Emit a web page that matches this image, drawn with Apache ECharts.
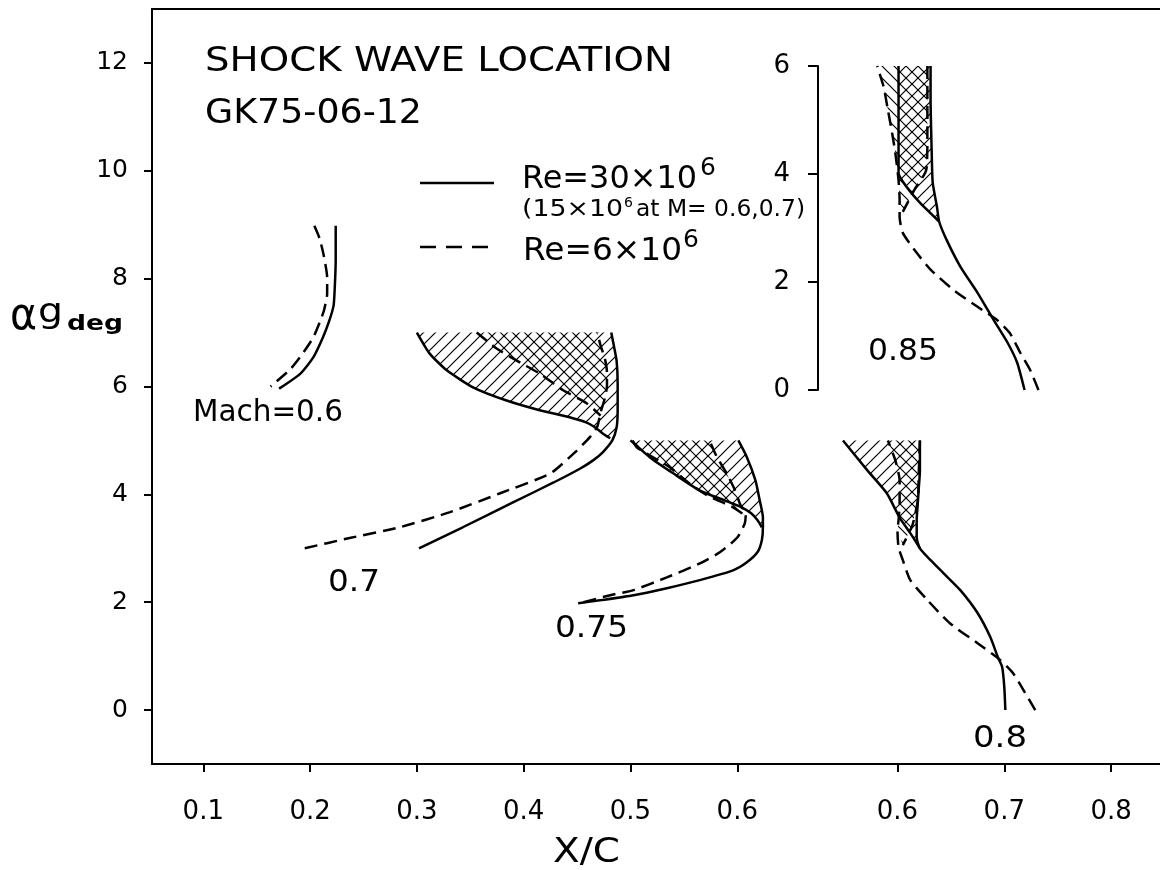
<!DOCTYPE html>
<html><head><meta charset="utf-8">
<script src="https://cdn.jsdelivr.net/npm/echarts@6/dist/echarts.min.js"></script>
<style>html,body{margin:0;padding:0;background:#fff}#c{width:1160px;height:870px}</style>
</head><body><div id="c"></div>
<script>
// ---------------- data (x = X/C, y = alpha g, deg) ----------------
const xTicksLeft = [0.1, 0.2, 0.3, 0.4, 0.5, 0.6];
const xTicksRight = [0.6, 0.7, 0.8];
const yTicks = [0, 2, 4, 6, 8, 10, 12];
const insetYTicks = [0, 2, 4, 6];

// Mach 0.6
const m60Solid = [[0.224,8.98],[0.224,8.33],[0.223,7.78],[0.222,7.50],[0.218,7.22],[0.212,6.91],[0.203,6.54],[0.191,6.24],[0.171,5.96]];
const m60Dash = [[0.204,8.98],[0.209,8.74],[0.213,8.41],[0.216,8.02],[0.216,7.72],[0.213,7.41],[0.209,7.19],[0.203,6.91],[0.193,6.61],[0.181,6.31],[0.163,6.00]];
// Mach 0.7
const m70Solid = [[0.302,3.0],[0.343,3.39],[0.390,3.85],[0.428,4.22],[0.453,4.48],[0.465,4.63],[0.474,4.78],[0.483,5.0],[0.487,5.24],[0.488,5.56],[0.488,6.06],[0.487,6.48],[0.484,6.80],[0.482,7.0]];
const m70SolidFwd = [[0.300,7.0],[0.312,6.61],[0.328,6.30],[0.353,5.98],[0.384,5.74],[0.415,5.56],[0.443,5.43],[0.459,5.33],[0.467,5.24],[0.474,5.13],[0.481,5.04]];
const m70Dash = [[0.195,3.0],[0.237,3.19],[0.284,3.39],[0.331,3.67],[0.378,4.02],[0.425,4.39],[0.448,4.78],[0.462,5.06],[0.469,5.26],[0.472,5.52],[0.476,5.78],[0.478,6.02],[0.478,6.26],[0.476,6.52],[0.472,6.76],[0.469,7.0]];
const m70DashFwd = [[0.356,7.0],[0.375,6.70],[0.397,6.44],[0.415,6.24],[0.437,5.93],[0.459,5.69],[0.472,5.46]];
// Mach 0.75
const m75Solid = [[0.451,1.98],[0.473,2.04],[0.503,2.13],[0.534,2.26],[0.565,2.41],[0.596,2.59],[0.609,2.74],[0.619,2.93],[0.623,3.15],[0.624,3.39],[0.624,3.57],[0.621,3.89],[0.617,4.26],[0.609,4.69],[0.601,5.0]];
const m75SolidFwd = [[0.500,5.0],[0.518,4.69],[0.540,4.39],[0.565,4.07],[0.588,3.89],[0.604,3.76],[0.613,3.65],[0.619,3.52],[0.623,3.39]];
const m75Dash = [[0.456,2.0],[0.481,2.13],[0.502,2.22],[0.534,2.46],[0.565,2.72],[0.584,2.93],[0.600,3.20],[0.607,3.46],[0.608,3.65],[0.603,3.80],[0.598,4.07],[0.590,4.39],[0.581,4.69],[0.574,5.0]];
const m75DashFwd = [[0.502,5.0],[0.506,4.87],[0.537,4.50],[0.554,4.22],[0.572,3.98],[0.596,3.76],[0.607,3.61]];
// Mach 0.8 (right-hand X/C scale)
const m80Solid = [[0.701,0.0],[0.700,0.43],[0.698,0.80],[0.694,0.98],[0.687,1.35],[0.675,1.80],[0.659,2.22],[0.643,2.54],[0.631,2.78],[0.621,3.0],[0.618,3.20],[0.618,3.52],[0.619,3.83],[0.620,4.13],[0.621,4.44],[0.621,5.0]];
const m80SolidFwd = [[0.549,5.0],[0.572,4.44],[0.590,4.02],[0.602,3.57],[0.612,3.28],[0.621,3.0]];
const m80Dash = [[0.729,0.0],[0.718,0.37],[0.708,0.69],[0.696,0.93],[0.675,1.24],[0.649,1.61],[0.628,2.04],[0.612,2.41],[0.605,2.78],[0.601,3.02],[0.600,3.33],[0.601,3.52],[0.602,3.83],[0.602,4.26],[0.598,4.63],[0.591,5.0]];
const m80DashAft = [[0.621,5.0],[0.620,4.44],[0.619,3.89],[0.614,3.43],[0.605,3.06]];
// Mach 0.85 (inset axis, right-hand X/C scale)
const m85Solid = [[0.719,0.0],[0.712,0.51],[0.703,0.88],[0.690,1.30],[0.675,1.80],[0.659,2.28],[0.646,2.78],[0.639,3.12],[0.637,3.39],[0.633,3.84],[0.632,4.45],[0.631,5.38],[0.631,6.0]];
const m85SolidFwd = [[0.601,6.0],[0.601,5.0],[0.601,4.02],[0.609,3.75],[0.621,3.47],[0.639,3.12]];
const m85Dash = [[0.732,0.0],[0.724,0.38],[0.715,0.69],[0.705,1.06],[0.693,1.30],[0.675,1.54],[0.652,1.86],[0.631,2.23],[0.618,2.54],[0.605,2.91],[0.602,3.21],[0.602,3.52],[0.601,3.89],[0.598,4.39],[0.595,4.76],[0.591,5.19],[0.587,5.62],[0.581,6.0]];
const m85DashAft = [[0.628,6.0],[0.628,5.38],[0.628,4.64],[0.627,4.08],[0.616,3.71],[0.605,3.30]];

// ---------------- rendering ----------------
const FONT = '"DejaVu Sans", sans-serif';
const chart = echarts.init(document.getElementById('c'), null, {renderer: 'canvas'});

function makePattern(dir) {
  const s = 12, c = document.createElement('canvas');
  c.width = s; c.height = s;
  const g = c.getContext('2d');
  g.strokeStyle = '#000'; g.lineWidth = 1.2; g.beginPath();
  if (dir > 0) {
    g.moveTo(0, s); g.lineTo(s, 0);
    g.moveTo(-s/2, s/2); g.lineTo(s/2, -s/2);
    g.moveTo(s/2, s*1.5); g.lineTo(s*1.5, s/2);
  } else {
    g.moveTo(0, 0); g.lineTo(s, s);
    g.moveTo(-s/2, s/2); g.lineTo(s/2, s*1.5);
    g.moveTo(s/2, -s/2); g.lineTo(s*1.5, s/2);
  }
  g.stroke();
  return c;
}
const patFwd = makePattern(1), patBack = makePattern(-1);

function region(a, b) {
  const endY = a[a.length - 1][1] - 0.01;
  return a.concat(b.filter(p => p[1] >= endY));
}
function hatch(poly, pat, xi, yi) {
  return {
    type: 'custom', xAxisIndex: xi, yAxisIndex: yi, silent: true, z: 1,
    data: [poly[0]],
    renderItem: (params, api) => ({
      type: 'polygon',
      shape: { points: poly.map(p => api.coord(p)) },
      style: { fill: { image: pat, repeat: 'repeat' }, stroke: null }
    })
  };
}
function line(data, dashed, xi, yi) {
  return {
    type: 'line', data: data, xAxisIndex: xi, yAxisIndex: yi,
    showSymbol: false, symbol: 'none', smooth: 0.2, z: 3,
    lineStyle: { color: '#000', width: 2.5, type: dashed ? [13, 7] : 'solid' }
  };
}

const series = [
  hatch(region(m70SolidFwd, m70Solid), patFwd, 0, 0),
  hatch(region(m70DashFwd, m70Dash), patBack, 0, 0),
  hatch(region(m75SolidFwd, m75Solid), patFwd, 0, 0),
  hatch(region(m75DashFwd, m75Dash), patBack, 0, 0),
  hatch(region(m80SolidFwd, m80Solid), patFwd, 1, 0),
  hatch(region(m80DashAft, m80Dash), patBack, 1, 0),
  hatch(region(m85SolidFwd, m85Solid), patFwd, 3, 1),
  hatch(region(m85DashAft, m85Dash), patBack, 3, 1),
  line(m60Solid, false, 0, 0), line(m60Dash, true, 0, 0),
  line(m70Solid, false, 0, 0), line(m70SolidFwd, false, 0, 0),
  line(m70Dash, true, 0, 0), line(m70DashFwd, true, 0, 0),
  line(m75Solid, false, 0, 0), line(m75SolidFwd, false, 0, 0),
  line(m75Dash, true, 0, 0), line(m75DashFwd, true, 0, 0),
  line(m80Solid, false, 1, 0), line(m80SolidFwd, false, 1, 0),
  line(m80Dash, true, 1, 0), line(m80DashAft, true, 1, 0),
  line(m85Solid, false, 3, 1), line(m85SolidFwd, false, 3, 1),
  line(m85Dash, true, 3, 1), line(m85DashAft, true, 3, 1)
];

// text placement helper (fits reference widths)
const meas = document.createElement('canvas').getContext('2d');
const graphics = [];
function addText(str, left, right, cy, size, weight) {
  const font = (weight || 'normal') + ' ' + size + 'px ' + FONT;
  meas.font = font;
  const w = meas.measureText(str).width;
  const sx = right ? (right - left) / w : 1;
  graphics.push({ type: 'text', x: left, y: cy, scaleX: sx, silent: true, z: 10,
    style: { text: str, x: 0, y: 0, align: 'left', verticalAlign: 'middle', font: font, fill: '#000' } });
}
addText('SHOCK WAVE LOCATION', 205, 673, 62.5, 34);
addText('GK75-06-12', 205, 422, 114.5, 34);
addText('Re=30×10', 522, 697, 180, 32);
addText('6', 700, null, 168, 25);
addText('(15×10', 522, 623, 210, 23);
addText('6', 624, null, 203, 14);
addText('at M= 0.6,0.7)', 636, 805, 210, 23);
addText('Re=6×10', 523, 682, 252, 32);
addText('6', 683, null, 240, 25);
addText('Mach=0.6', 193, 343, 412.5, 31);
addText('0.7', 328, 380, 583, 31);
addText('0.75', 555, 628, 629, 31);
addText('0.8', 973, 1027, 739, 31);
addText('0.85', 868, 938, 352, 31);
addText('X/C', 553, 620, 853, 34);
addText('α', 10, 37, 318, 44);
addText('g', 38, 63, 313, 34);
addText('deg', 67, 123, 324, 22, 'bold');
graphics.push({ type: 'line', silent: true, z: 10, shape: { x1: 420, y1: 183, x2: 494, y2: 183 },
  style: { stroke: '#000', lineWidth: 2.5 } });
graphics.push({ type: 'line', silent: true, z: 10, shape: { x1: 420, y1: 247, x2: 488, y2: 247 },
  style: { stroke: '#000', lineWidth: 2.5, lineDash: [16, 10] } });

const axLine = { show: true, onZero: false, lineStyle: { color: '#000', width: 2 } };
const noLine = { show: false, onZero: false };
const labelStyle = { color: '#000', fontFamily: FONT };

const option = {
  backgroundColor: '#fff',
  animation: false,
  grid: [
    { left: 152, right: 0, top: 9, bottom: 106 },
    { left: 818, top: 66, width: 342, height: 324 }
  ],
  xAxis: [
    { gridIndex: 0, type: 'value', position: 'bottom', min: 0.052, max: 0.9958,
      axisLine: axLine, splitLine: { show: false },
      axisTick: { customValues: xTicksLeft, length: 8, lineStyle: { color: '#000', width: 2 } },
      axisLabel: Object.assign({ customValues: xTicksLeft, fontSize: 26, margin: 35,
        formatter: v => v.toFixed(1) }, labelStyle) },
    { gridIndex: 0, type: 'value', position: 'bottom', min: -0.098, max: 0.8458,
      axisLine: noLine, splitLine: { show: false },
      axisTick: { customValues: xTicksRight, length: 8, lineStyle: { color: '#000', width: 2 } },
      axisLabel: Object.assign({ customValues: xTicksRight, fontSize: 26, margin: 35,
        formatter: v => v.toFixed(1) }, labelStyle) },
    { gridIndex: 0, type: 'value', position: 'top', min: 0, max: 1,
      axisLine: axLine, axisTick: { show: false }, axisLabel: { show: false }, splitLine: { show: false } },
    { gridIndex: 1, type: 'value', min: 0.5256, max: 0.8458, show: false, axisLine: noLine }
  ],
  yAxis: [
    { gridIndex: 0, type: 'value', position: 'left', min: -1, max: 13, axisLine: axLine, splitLine: { show: false },
      axisTick: { customValues: yTicks, length: 8, lineStyle: { color: '#000', width: 2 } },
      axisLabel: Object.assign({ customValues: yTicks, fontSize: 25, margin: 24 }, labelStyle) },
    { gridIndex: 1, type: 'value', position: 'left', min: 0, max: 6, axisLine: axLine, splitLine: { show: false },
      axisTick: { customValues: insetYTicks, length: 10, lineStyle: { color: '#000', width: 2 } },
      axisLabel: Object.assign({ customValues: insetYTicks, fontSize: 26, margin: 28 }, labelStyle) }
  ],
  graphic: graphics,
  series: series
};
chart.setOption(option);
</script></body></html>
